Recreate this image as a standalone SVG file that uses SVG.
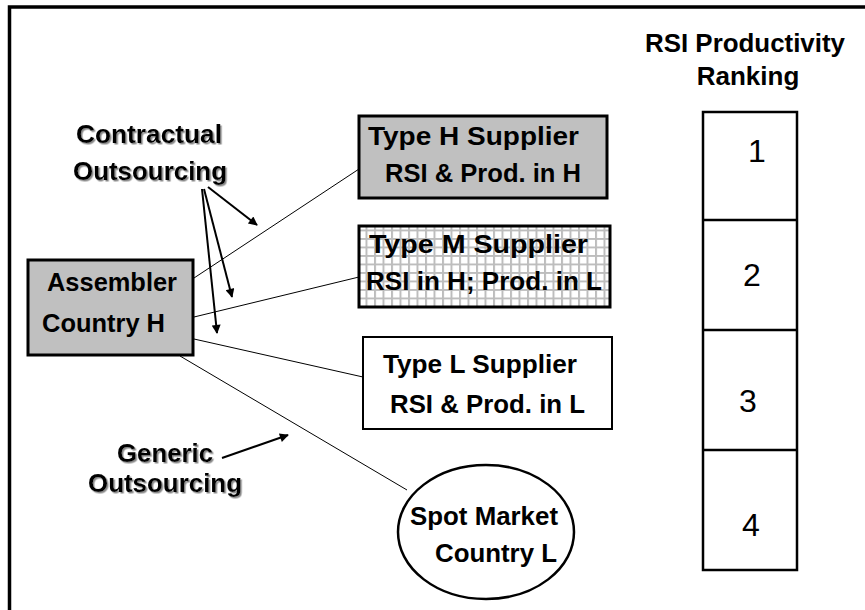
<svg xmlns="http://www.w3.org/2000/svg" width="865" height="610" viewBox="0 0 865 610">
<style>
.t{font-family:"Liberation Sans",Arial,sans-serif;font-weight:bold;font-size:26px;fill:#000}
.n{font-family:"Liberation Sans",Arial,sans-serif;font-size:32px;fill:#000;text-anchor:middle}
.box{stroke:#000;stroke-width:3}
.thin{stroke:#000;stroke-width:1;fill:none}
.arr{stroke:#000;stroke-width:2;fill:none;marker-end:url(#ah)}
.sh{filter:url(#shadow)}
</style>
<defs>
<marker id="ah" viewBox="0 0 10 10" refX="9" refY="5" markerWidth="6" markerHeight="4.5" markerUnits="strokeWidth" orient="auto">
<path d="M0,0 L10,5 L0,10 z" fill="#000"/>
</marker>
<pattern id="grid" width="8.5" height="8.5" patternUnits="userSpaceOnUse">
<rect width="8.5" height="8.5" fill="#fff"/>
<path d="M0,1 H8.5 M1,0 V8.5" stroke="#bdbdbd" stroke-width="2"/>
</pattern>
<filter id="shadow" x="-10%" y="-20%" width="130%" height="160%">
<feDropShadow dx="1.5" dy="1.5" stdDeviation="0.6" flood-color="#888" flood-opacity="1"/>
</filter>
</defs>
<rect width="865" height="610" fill="#fff"/>
<path d="M9.5,610 V7 H865" fill="none" stroke="#000" stroke-width="3.5"/>

<g id="connectors">
<line class="thin" x1="194" y1="278" x2="359" y2="169"/>
<line class="thin" x1="194" y1="317" x2="359" y2="277"/>
<line class="thin" x1="194" y1="339" x2="363" y2="377"/>
<line class="thin" x1="180" y1="356" x2="407" y2="490"/>
<line class="arr" x1="208" y1="187" x2="257" y2="225"/>
<line class="arr" x1="204" y1="189" x2="232" y2="297"/>
<line class="arr" x1="202" y1="189" x2="217" y2="333"/>
<line class="arr" x1="222" y1="458" x2="288" y2="435"/>
</g>

<g id="label-contractual" class="sh">
<text class="t" x="76" y="143" textLength="146" lengthAdjust="spacingAndGlyphs">Contractual</text>
<text class="t" x="73" y="180" textLength="154" lengthAdjust="spacingAndGlyphs">Outsourcing</text>
</g>
<g id="label-generic" class="sh">
<text class="t" x="165" y="462" text-anchor="middle" textLength="96" lengthAdjust="spacingAndGlyphs">Generic</text>
<text class="t" x="165" y="492" text-anchor="middle" textLength="154" lengthAdjust="spacingAndGlyphs">Outsourcing</text>
</g>

<g id="assembler">
<rect class="box" x="28" y="260" width="165" height="95" fill="#c0c0c0"/>
<text class="t" x="47" y="291" textLength="130" lengthAdjust="spacingAndGlyphs">Assembler</text>
<text class="t" x="42" y="332" textLength="123" lengthAdjust="spacingAndGlyphs">Country H</text>
</g>

<g id="type-h">
<rect class="box" x="359" y="116" width="248" height="82" fill="#c0c0c0"/>
<text class="t" x="368" y="145" textLength="211" lengthAdjust="spacingAndGlyphs">Type H Supplier</text>
<text class="t" x="385" y="182" textLength="196" lengthAdjust="spacingAndGlyphs">RSI &amp; Prod. in H</text>
</g>

<g id="type-m">
<rect class="box" x="359" y="226" width="251" height="81" fill="url(#grid)"/>
<text class="t" x="369" y="253" textLength="219" lengthAdjust="spacingAndGlyphs">Type M Supplier</text>
<text class="t" x="366" y="290" textLength="236" lengthAdjust="spacingAndGlyphs">RSI in H; Prod. in L</text>
</g>

<g id="type-l">
<rect x="363" y="337" width="249" height="92" fill="#fff" stroke="#000" stroke-width="2"/>
<text class="t" x="383" y="373" textLength="194" lengthAdjust="spacingAndGlyphs">Type L Supplier</text>
<text class="t" x="390" y="413" textLength="195" lengthAdjust="spacingAndGlyphs">RSI &amp; Prod. in L</text>
</g>

<g id="spot-market">
<ellipse cx="486" cy="532" rx="88" ry="67" fill="#fff" stroke="#000" stroke-width="2.5"/>
<text class="t" x="410" y="525" textLength="148" lengthAdjust="spacingAndGlyphs">Spot Market</text>
<text class="t" x="435" y="562" textLength="122" lengthAdjust="spacingAndGlyphs">Country L</text>
</g>

<g id="ranking">
<text class="t" x="745" y="52" text-anchor="middle" textLength="200" lengthAdjust="spacingAndGlyphs">RSI Productivity</text>
<text class="t" x="748" y="85" text-anchor="middle">Ranking</text>
<rect x="703" y="112" width="94" height="458" fill="#fff" stroke="#000" stroke-width="2.5"/>
<line x1="703" y1="220" x2="797" y2="220" stroke="#000" stroke-width="2.5"/>
<line x1="703" y1="330" x2="797" y2="330" stroke="#000" stroke-width="2.5"/>
<line x1="703" y1="450" x2="797" y2="450" stroke="#000" stroke-width="2.5"/>
<text class="n" x="757" y="162">1</text>
<text class="n" x="752" y="286">2</text>
<text class="n" x="748" y="412">3</text>
<text class="n" x="751" y="536">4</text>
</g>
</svg>
